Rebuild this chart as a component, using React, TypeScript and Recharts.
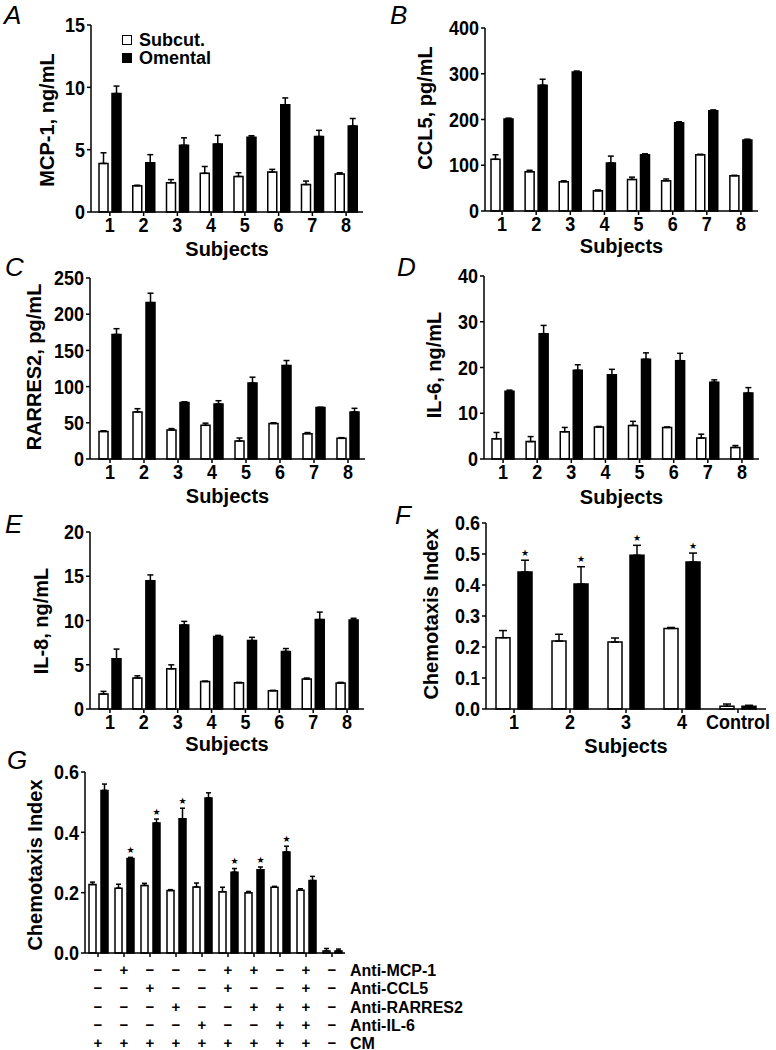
import React from 'react';
import { BarChart, Bar, XAxis, YAxis, ErrorBar, LabelList, Legend } from 'recharts';

const FONT = "'Liberation Sans', Arial, Helvetica, sans-serif";

// ---- data ----
const SUBJECTS8 = ['1', '2', '3', '4', '5', '6', '7', '8'];

const A_sub = [3.9, 2.1, 2.35, 3.1, 2.85, 3.2, 2.2, 3.05];
const A_subErr = [0.85, 0.05, 0.25, 0.55, 0.3, 0.22, 0.28, 0.1];
const A_om = [9.5, 3.95, 5.35, 5.45, 6.0, 8.6, 6.05, 6.9];
const A_omErr = [0.6, 0.65, 0.6, 0.7, 0.12, 0.55, 0.5, 0.6];

const B_sub = [113, 86, 64, 44, 69, 66, 123, 77];
const B_subErr = [10, 3, 2, 2, 5, 4, 1, 1];
const B_om = [201, 275, 304, 105, 123, 193, 219, 155];
const B_omErr = [2, 13, 2, 15, 2, 2, 2, 2];

const C_sub = [38, 65, 40, 46.5, 25, 49, 35, 28.5];
const C_subErr = [1, 4.5, 2, 3, 4, 1, 1.5, 1];
const C_om = [172, 216, 78, 76, 105, 129, 71, 65];
const C_omErr = [8, 13, 1, 4.5, 8, 7, 0.5, 5];

const D_sub = [4.4, 3.8, 5.95, 6.97, 7.33, 6.9, 4.57, 2.54];
const D_subErr = [1.4, 1.1, 0.95, 0.15, 0.9, 0.1, 0.85, 0.4];
const D_om = [14.8, 27.4, 19.4, 18.4, 21.8, 21.5, 16.8, 14.4];
const D_omErr = [0.25, 1.8, 1.2, 1.2, 1.4, 1.6, 0.5, 1.2];

const E_sub = [1.69, 3.5, 4.54, 3.1, 2.96, 2.06, 3.38, 2.93];
const E_subErr = [0.3, 0.25, 0.45, 0.05, 0.05, 0.05, 0.12, 0.08];
const E_om = [5.67, 14.5, 9.5, 8.2, 7.73, 6.5, 10.1, 10.05];
const E_omErr = [1.1, 0.65, 0.4, 0.12, 0.37, 0.33, 0.85, 0.2];

const F_cats = ['1', '2', '3', '4', 'Control'];
const F_sub = [0.23, 0.219, 0.216, 0.26, 0.009];
const F_subErr = [0.023, 0.022, 0.013, 0.003, 0.007];
const F_om = [0.442, 0.403, 0.496, 0.474, 0.009];
const F_omErr = [0.038, 0.056, 0.032, 0.029, 0.003];
const F_stars = [1, 1, 1, 1, 0];

const G_cats = ['g1', 'g2', 'g3', 'g4', 'g5', 'g6', 'g7', 'g8', 'g9', 'g10'];
const G_sub = [0.227, 0.215, 0.224, 0.207, 0.219, 0.203, 0.2, 0.218, 0.208, 0.007];
const G_subErr = [0.008, 0.013, 0.007, 0.003, 0.013, 0.015, 0.004, 0.003, 0.005, 0.008];
const G_om = [0.539, 0.313, 0.431, 0.445, 0.514, 0.268, 0.276, 0.335, 0.24, 0.007];
const G_omErr = [0.021, 0.004, 0.013, 0.035, 0.017, 0.012, 0.009, 0.019, 0.014, 0.006];
const G_stars = [0, 1, 1, 1, 0, 1, 1, 1, 0, 0];

const G_rowLabels = ['Anti-MCP-1', 'Anti-CCL5', 'Anti-RARRES2', 'Anti-IL-6', 'CM'];
const G_mcp1 = ['−', '+', '−', '−', '−', '+', '+', '−', '+', '−'];
const G_ccl5 = ['−', '−', '+', '−', '−', '+', '−', '−', '+', '−'];
const G_rarres2 = ['−', '−', '−', '+', '−', '−', '+', '+', '+', '−'];
const G_il6 = ['−', '−', '−', '−', '+', '−', '−', '+', '+', '−'];
const G_cm = ['+', '+', '+', '+', '+', '+', '+', '+', '+', '−'];
const G_rows = [G_mcp1, G_ccl5, G_rarres2, G_il6, G_cm];

type Row = { name: string; sub: number; om: number; subE: number[]; omE: number[]; star: number };

function build(cats: string[], sub: number[], subErr: number[], om: number[], omErr: number[], stars?: number[]): Row[] {
  return cats.map((name, i) => ({
    name, sub: sub[i], om: om[i],
    subE: [0, subErr[i]], omE: [0, omErr[i]],
    star: stars ? stars[i] : 0,
  }));
}

// text in the original is a bit taller than Arial, so stretch ticks slightly
const STRETCH = 1.12;

const mkTick = (axis: 'x' | 'y', fmt?: (v: number) => string) => (props: any) => {
  const { x, y, payload } = props;
  const s = fmt ? fmt(payload.value) : payload.value;
  return (
    <text transform={`translate(${x},${y}) scale(1,${STRETCH})`} x={0} y={0}
      dy={axis === 'y' ? '0.355em' : '0.71em'} textAnchor={axis === 'y' ? 'end' : 'middle'}
      fill="#000" fontSize={18} fontWeight={700} fontFamily={FONT}>{s}</text>
  );
};

const starContent = (rows: Row[]) => (props: any) => {
  const d = rows[props.index];
  if (!d || !d.star) return null;
  const vb = props.viewBox ?? props;
  const k = vb.height / d.om;
  const top = vb.y - d.omE[1] * k;
  return (
    <text x={vb.x + vb.width / 2} y={top - 4.5} textAnchor="middle"
      fontSize={9} fontFamily="'DejaVu Sans'" fill="#000">★</text>
  );
};

const legendContent = (props: any) => {
  const items = [...(props.payload || [])].sort((a: any, b: any) =>
    (a.dataKey === 'sub' ? 0 : 1) - (b.dataKey === 'sub' ? 0 : 1));
  return (
    <div style={{ fontFamily: FONT, fontWeight: 700, fontSize: 18, lineHeight: '16px', color: '#000' }}>
      {items.map((e: any) => (
        <div key={e.value} style={{ display: 'flex', alignItems: 'center', height: 18 }}>
          <span style={{ display: 'inline-block', width: 8, height: 8, border: '1.5px solid #000',
            background: e.color, marginRight: 7 }} />
          <span>{e.value}</span>
        </div>
      ))}
    </div>
  );
};

interface PanelProps {
  data: Row[];
  box: { l: number; t: number; r: number; b: number };
  yMax: number; yTicks: number[]; fmt?: (v: number) => string;
  yTitle: string; yTitleX: number; yTitleDy: number;
  xTitle?: string; xTitleBase?: number;
  barSize: number; barGap: number; cap: number;
  padLeft?: number; mr?: number; xh?: number;
  tick?: any; legend?: boolean;
}

function Panel(p: PanelProps) {
  const { l, t, r, b } = p.box;
  const YW = 80, MT = 12;
  const mr = p.mr ?? 10, xh = p.xh ?? 52;
  const left = l - YW, top = t - MT;
  const w = YW + (r - l) + mr, h = MT + (b - t) + xh;
  const axisStyle = { stroke: '#000', strokeWidth: 1.5 };
  return (
    <div style={{ position: 'absolute', left, top, width: w, height: h }}>
      <BarChart width={w} height={h} data={p.data} barSize={p.barSize} barGap={p.barGap}
        margin={{ top: MT, right: mr, left: 0, bottom: 0 }}>
        <XAxis dataKey="name" height={xh} interval={0} padding={{ left: p.padLeft ?? 0, right: 0 }}
          axisLine={axisStyle} tickLine={axisStyle} tickSize={4} tickMargin={2}
          tick={p.tick ?? mkTick('x')}
          label={p.xTitle ? {
            value: p.xTitle, position: 'insideBottom', offset: xh - (p.xTitleBase ?? 44),
            fill: '#000', fontSize: 20, fontWeight: 700, fontFamily: FONT,
          } : undefined} />
        <YAxis type="number" width={YW} domain={[0, p.yMax]} ticks={p.yTicks} interval={0}
          axisLine={axisStyle} tickLine={axisStyle} tickSize={4} tickMargin={2}
          tick={mkTick('y', p.fmt)}
          label={{
            value: p.yTitle, angle: -90, position: 'insideLeft', offset: p.yTitleX - left,
            dy: p.yTitleDy, style: { textAnchor: 'middle' },
            fill: '#000', fontSize: 20, fontWeight: 700, fontFamily: FONT,
          }} />
        {p.legend && (
          <Legend layout="horizontal" verticalAlign="middle" align="center" content={legendContent}
            wrapperStyle={{ left: 122 - left, top: 31 - top, width: 160, height: 40 }} />
        )}
        <Bar dataKey="sub" name="Subcut." fill="#fff" stroke="#000" strokeWidth={1.5} isAnimationActive={false}>
          <ErrorBar dataKey="subE" width={p.cap} stroke="#000" strokeWidth={1.5} direction="y" />
        </Bar>
        <Bar dataKey="om" name="Omental" fill="#000" stroke="#000" strokeWidth={1.5} isAnimationActive={false}>
          <ErrorBar dataKey="omE" width={p.cap} stroke="#000" strokeWidth={1.5} direction="y" />
          <LabelList dataKey="star" content={starContent(p.data)} />
        </Bar>
      </BarChart>
    </div>
  );
}

// table of +/- under panel G drawn as the x-axis ticks
const rowCenters = [11, 29, 48, 66, 84];
const GTick = (props: any) => {
  const { x, y, index } = props;
  return (
    <g>
      {G_rows.map((row, k) => (
        <text key={k} x={x} y={y + rowCenters[k] + 5.3} textAnchor="middle" fill="#000"
          fontSize={15} fontWeight={700} fontFamily={FONT}>{row[index]}</text>
      ))}
      {index === G_cats.length - 1 && G_rowLabels.map((lab, k) => (
        <text key={'l' + k} x={x + 18} y={y + rowCenters[k] + 5.5} textAnchor="start" fill="#000"
          fontSize={16} fontWeight={700} fontFamily={FONT}>{lab}</text>
      ))}
    </g>
  );
};

function Letter({ ch, x, y }: { ch: string; x: number; y: number }) {
  return (
    <div style={{ position: 'absolute', left: x, top: y - 3.4, fontFamily: FONT, fontStyle: 'italic',
      fontSize: 26, lineHeight: '26px', color: '#000' }}>{ch}</div>
  );
}

const oneDec = (v: number) => v.toFixed(1);

export default function App() {
  const dA = build(SUBJECTS8, A_sub, A_subErr, A_om, A_omErr);
  const dB = build(SUBJECTS8, B_sub, B_subErr, B_om, B_omErr);
  const dC = build(SUBJECTS8, C_sub, C_subErr, C_om, C_omErr);
  const dD = build(SUBJECTS8, D_sub, D_subErr, D_om, D_omErr);
  const dE = build(SUBJECTS8, E_sub, E_subErr, E_om, E_omErr);
  const dF = build(F_cats, F_sub, F_subErr, F_om, F_omErr, F_stars);
  const dG = build(G_cats, G_sub, G_subErr, G_om, G_omErr, G_stars);

  return (
    <div style={{ position: 'absolute', left: 0, top: 0, width: 776, height: 1050, background: '#fff', overflow: 'hidden' }}>
      <Letter ch="A" x={4} y={5} />
      <Letter ch="B" x={390} y={5} />
      <Letter ch="C" x={5} y={257} />
      <Letter ch="D" x={397} y={257} />
      <Letter ch="E" x={5} y={514} />
      <Letter ch="F" x={395} y={505} />
      <Letter ch="G" x={7} y={750} />

      <Panel data={dA} box={{ l: 91, t: 25, r: 363, b: 212 }} yMax={15} yTicks={[0, 5, 10, 15]}
        yTitle="MCP-1, ng/mL" yTitleX={46.8} yTitleDy={1.5} xTitle="Subjects" xTitleBase={44}
        barSize={9} barGap={4} cap={3} padLeft={2} legend />
      <Panel data={dB} box={{ l: 485, t: 28, r: 758, b: 211 }} yMax={400} yTicks={[0, 100, 200, 300, 400]}
        yTitle="CCL5, pg/mL" yTitleX={424.8} yTitleDy={-11.5} xTitle="Subjects" xTitleBase={42}
        barSize={9} barGap={4} cap={3} />
      <Panel data={dC} box={{ l: 90, t: 278, r: 365, b: 459 }} yMax={250} yTicks={[0, 50, 100, 150, 200, 250]}
        yTitle="RARRES2, pg/mL" yTitleX={33.8} yTitleDy={-1.5} xTitle="Subjects" xTitleBase={44}
        barSize={9} barGap={4} cap={3} padLeft={3} />
      <Panel data={dD} box={{ l: 484, t: 276, r: 759, b: 459 }} yMax={40} yTicks={[0, 10, 20, 30, 40]}
        yTitle="IL-6, ng/mL" yTitleX={433.8} yTitleDy={-2.5} xTitle="Subjects" xTitleBase={45}
        barSize={9} barGap={4} cap={3} padLeft={2} />
      <Panel data={dE} box={{ l: 90, t: 532, r: 364, b: 709 }} yMax={20} yTicks={[0, 5, 10, 15, 20]}
        yTitle="IL-8, ng/mL" yTitleX={40.8} yTitleDy={0.5} xTitle="Subjects" xTitleBase={42}
        barSize={9} barGap={4} cap={3} padLeft={3} />
      <Panel data={dF} box={{ l: 486, t: 523, r: 766, b: 709 }} yMax={0.6}
        yTicks={[0, 0.1, 0.2, 0.3, 0.4, 0.5, 0.6]} fmt={oneDec}
        yTitle="Chemotaxis Index" yTitleX={430.8} yTitleDy={-2} xTitle="Subjects" xTitleBase={44}
        barSize={14} barGap={8} cap={4} />
      <Panel data={dG} box={{ l: 85, t: 772, r: 345, b: 953 }} yMax={0.6} yTicks={[0, 0.2, 0.4, 0.6]} fmt={oneDec}
        yTitle="Chemotaxis Index" yTitleX={34.8} yTitleDy={2.5}
        barSize={7} barGap={5} cap={2.5} mr={125} xh={97} tick={<GTick />} />
    </div>
  );
}
